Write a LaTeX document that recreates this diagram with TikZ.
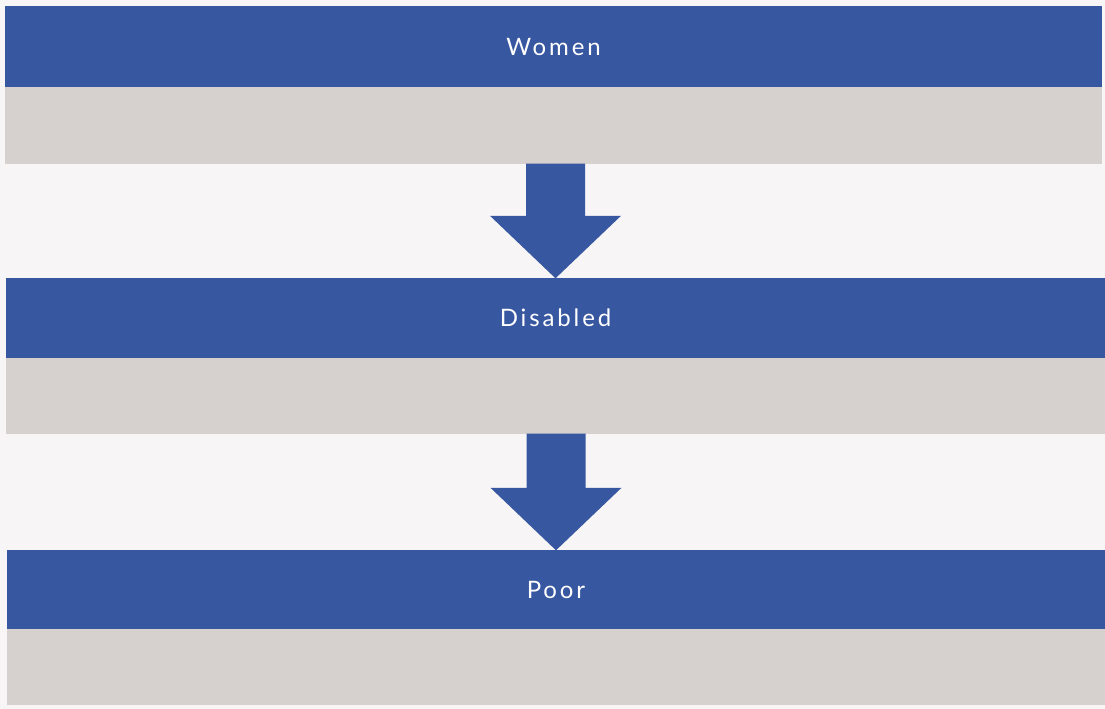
\documentclass[tikz,border=0pt]{standalone}
\usepackage{fontspec}
\setmainfont{Lato}
\usetikzlibrary{calc}
\definecolor{barblue}{HTML}{3757A0}
\definecolor{bargray}{HTML}{D6D0CF}
\definecolor{paper}{HTML}{F7F5F5}
\newcommand\flowarrow[2]{%
  \fill[barblue] ($(#1.south -| #2.north)+(-29.5,-1)$) -- ++(59,0)
    -- ($(#2.north)+(29.5,-62)$) -- ++(36,0) -- ($(#2.north)+(0,0.5)$)
    -- ($(#2.north)+(-65.5,-62)$) -- ++(36,0) -- cycle;}
\begin{document}
\begin{tikzpicture}[x=1pt,y=-1pt,
  bar/.style={fill=barblue, draw=none, inner sep=0pt, text=white,
    font=\fontsize{24}{28}\selectfont\addfontfeatures{LetterSpace=12}},
  band/.style={fill=bargray, draw=none, inner sep=0pt, minimum height=77pt}]
\fill[paper] (0,0) rectangle (1105,709);
\useasboundingbox (0,0) rectangle (1105,709);
\node[bar, minimum width=1097pt, minimum height=81pt] (women) at (553.5,46.5) {Women};
\node[band, minimum width=1097pt, anchor=north] (g1) at (women.south) {};
\node[bar, minimum width=1099pt, minimum height=80pt] (disabled) at (555.5,318) {Disabled};
\node[band, minimum width=1099pt, anchor=north, minimum height=76pt] (g2) at (disabled.south) {};
\node[bar, minimum width=1098pt, minimum height=79pt] (poor) at (556,589.5) {Poor};
\node[band, minimum width=1098pt, anchor=north, minimum height=76pt] (g3) at (poor.south) {};
\flowarrow{g1}{disabled}
\flowarrow{g2}{poor}
\end{tikzpicture}
\end{document}
